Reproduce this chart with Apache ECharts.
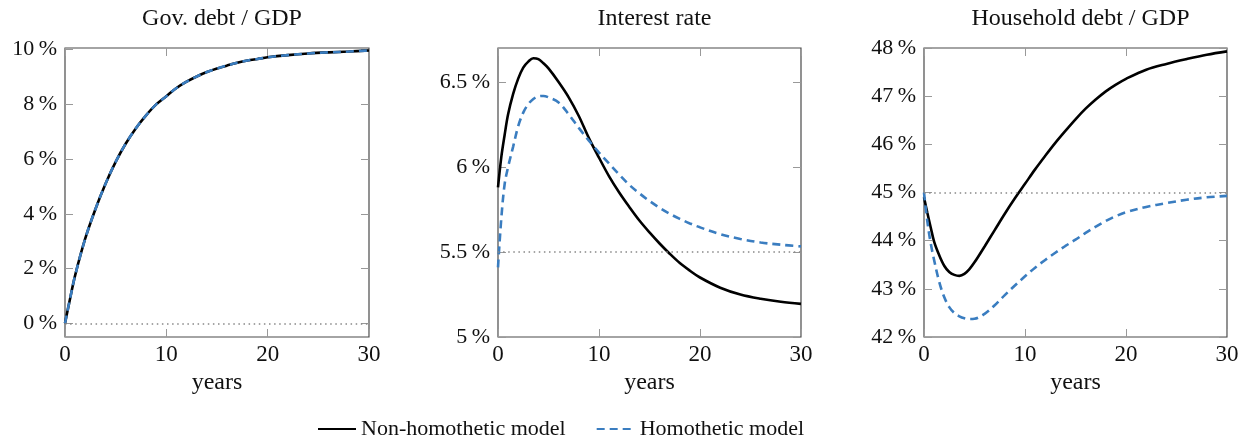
<!DOCTYPE html>
<html>
<head>
<meta charset="utf-8">
<script src="https://cdn.jsdelivr.net/npm/echarts@6/dist/echarts.min.js"></script>
<style>
html,body{margin:0;padding:0;background:#fff;}
#chart{width:1247px;height:440px;}
</style>
</head>
<body>
<div id="chart"></div>
<script>
// ---- Data ----
var panelTitles = ['Gov. debt / GDP', 'Interest rate', 'Household debt / GDP'];
var seriesNames = ['Non-homothetic model', 'Homothetic model'];
var xTicks = [0, 10, 20, 30];

var govYears = [0, 0.5, 1, 2, 3, 4, 5, 6, 7, 8, 9, 10, 11, 12, 13, 14, 15, 16, 17, 18, 19, 20, 22, 24, 26, 28, 30];
var govNonHom = [0, 0.9, 1.75, 3.1, 4.17, 5.1, 5.9, 6.57, 7.13, 7.6, 8.0, 8.3, 8.6, 8.83, 9.02, 9.18, 9.31, 9.42, 9.52, 9.6, 9.66, 9.72, 9.8, 9.86, 9.9, 9.93, 9.97];
var govHom    = [0, 0.9, 1.75, 3.1, 4.17, 5.1, 5.9, 6.57, 7.13, 7.6, 8.0, 8.3, 8.6, 8.83, 9.02, 9.18, 9.31, 9.42, 9.52, 9.6, 9.66, 9.72, 9.8, 9.86, 9.9, 9.93, 9.97];
var govTicks = [0, 2, 4, 6, 8, 10];
var govBase = 0;

var years = [0, 0.33, 0.66, 1, 1.5, 2, 2.5, 3, 3.5, 4, 4.5, 5, 6, 7, 8, 9, 10, 11, 12, 13, 14, 15, 16, 17, 18, 19, 20, 22, 24, 26, 28, 30];
var rateNonHom = [5.88, 6.06, 6.19, 6.31, 6.43, 6.52, 6.585, 6.62, 6.64, 6.635, 6.61, 6.58, 6.5, 6.41, 6.3, 6.17, 6.055, 5.945, 5.85, 5.765, 5.685, 5.615, 5.55, 5.49, 5.435, 5.39, 5.35, 5.29, 5.25, 5.225, 5.207, 5.195];
var rateHom    = [5.41, 5.7, 5.9, 6.0, 6.12, 6.24, 6.32, 6.37, 6.4, 6.415, 6.418, 6.41, 6.38, 6.31, 6.23, 6.155, 6.085, 6.02, 5.955, 5.895, 5.845, 5.8, 5.76, 5.725, 5.695, 5.668, 5.645, 5.605, 5.577, 5.556, 5.543, 5.533];
var rateTicks = [5, 5.5, 6, 6.5];
var rateBase = 5.5;

var hhNonHom = [44.9, 44.58, 44.28, 43.98, 43.7, 43.48, 43.35, 43.29, 43.27, 43.31, 43.41, 43.55, 43.88, 44.22, 44.56, 44.88, 45.18, 45.48, 45.76, 46.03, 46.28, 46.52, 46.74, 46.93, 47.1, 47.24, 47.36, 47.55, 47.67, 47.77, 47.86, 47.93];
var hhHom    = [45.0, 44.4, 43.95, 43.6, 43.15, 42.83, 42.62, 42.5, 42.43, 42.39, 42.375, 42.38, 42.48, 42.66, 42.87, 43.07, 43.26, 43.44, 43.6, 43.75, 43.89, 44.02, 44.16, 44.29, 44.41, 44.51, 44.59, 44.7, 44.78, 44.85, 44.9, 44.93];
var hhTicks = [42, 43, 44, 45, 46, 47, 48];
var hhBase = 45;

// ---- Styling / layout ----
var FONT = 'Liberation Serif';
var TXT = '#111';
var BLUE = '#3a7dc0';
var grids = [
  {left: 65, width: 304, top: 48, height: 289},
  {left: 498, width: 303, top: 48, height: 289},
  {left: 924, width: 303, top: 48, height: 289}
];
var yRanges = [[-0.5, 10.06], [5, 6.70], [42, 48]];
var yTickSets = [govTicks, rateTicks, hhTicks];
var bases = [govBase, rateBase, hhBase];

function pairs(xs, ys) { return xs.map(function (x, i) { return [x, ys[i]]; }); }
var data = [
  [pairs(govYears, govNonHom), pairs(govYears, govHom)],
  [pairs(years, rateNonHom), pairs(years, rateHom)],
  [pairs(years, hhNonHom), pairs(years, hhHom)]
];

function pct(v) {
  var s = String(Math.round(v * 100) / 100);
  return s + '\u2009%';
}

var option = {
  animation: false,
  backgroundColor: '#fff',
  title: [], grid: [], xAxis: [], yAxis: [], series: [],
  legend: {
    left: 312, top: 413,
    itemWidth: 38, itemHeight: 14, itemGap: 30,
    itemStyle: {opacity: 0},
    textStyle: {fontFamily: FONT, fontSize: 22, color: TXT},
    data: seriesNames
  }
};

grids.forEach(function (g, i) {
  option.grid.push({left: g.left, width: g.width, top: g.top, height: g.height,
    show: true, borderColor: '#4a4a4a', borderWidth: 1.2, backgroundColor: 'transparent'});
  option.title.push({text: panelTitles[i], left: g.left + g.width / 2, textAlign: 'center', top: 2,
    textStyle: {fontFamily: FONT, fontSize: 24, fontWeight: 'normal', color: TXT}});
  function tickStyle(vals) {
    return {show: true, inside: true, length: 8, customValues: vals, lineStyle: {color: '#999', width: 1}};
  }
  option.xAxis.push({
    gridIndex: i, type: 'value', min: 0, max: 30, position: 'bottom',
    axisLine: {show: false, onZero: false}, splitLine: {show: false},
    axisTick: tickStyle(xTicks),
    axisLabel: {customValues: xTicks, fontFamily: FONT, fontSize: 23, color: TXT, margin: 6},
    name: 'years', nameLocation: 'middle', nameGap: 34,
    nameTextStyle: {fontFamily: FONT, fontSize: 24, color: TXT}
  });
  option.xAxis.push({
    gridIndex: i, type: 'value', min: 0, max: 30, position: 'top',
    axisLine: {show: false, onZero: false}, splitLine: {show: false},
    axisTick: tickStyle(xTicks),
    axisLabel: {show: false}
  });
  option.yAxis.push({
    gridIndex: i, type: 'value', min: yRanges[i][0], max: yRanges[i][1], position: 'left',
    axisLine: {show: false, onZero: false}, splitLine: {show: false},
    axisTick: tickStyle(yTickSets[i]),
    axisLabel: {customValues: yTickSets[i], fontFamily: FONT, fontSize: 22, color: TXT, margin: 8, formatter: pct}
  });
  option.yAxis.push({
    gridIndex: i, type: 'value', min: yRanges[i][0], max: yRanges[i][1], position: 'right',
    axisLine: {show: false, onZero: false}, splitLine: {show: false},
    axisTick: tickStyle(yTickSets[i]),
    axisLabel: {show: false}
  });
  option.series.push({
    name: seriesNames[0], type: 'line', xAxisIndex: 2 * i, yAxisIndex: 2 * i,
    data: data[i][0], smooth: 0.35, symbol: 'none', z: 3,
    lineStyle: {color: '#000', width: 2.6},
    itemStyle: {color: '#000'},
    markLine: {silent: true, symbol: 'none', label: {show: false},
      lineStyle: {color: '#888', width: 1.5, type: [1.5, 3.6]},
      data: [{yAxis: bases[i]}]}
  });
  option.series.push({
    name: seriesNames[1], type: 'line', xAxisIndex: 2 * i, yAxisIndex: 2 * i,
    data: data[i][1], smooth: 0.35, symbol: 'none', z: 4,
    lineStyle: {color: BLUE, width: 2.6, type: [8, 5]},
    itemStyle: {color: BLUE}
  });
});

var chart = echarts.init(document.getElementById('chart'), null, {renderer: 'canvas'});
chart.setOption(option);
</script>
</body>
</html>
